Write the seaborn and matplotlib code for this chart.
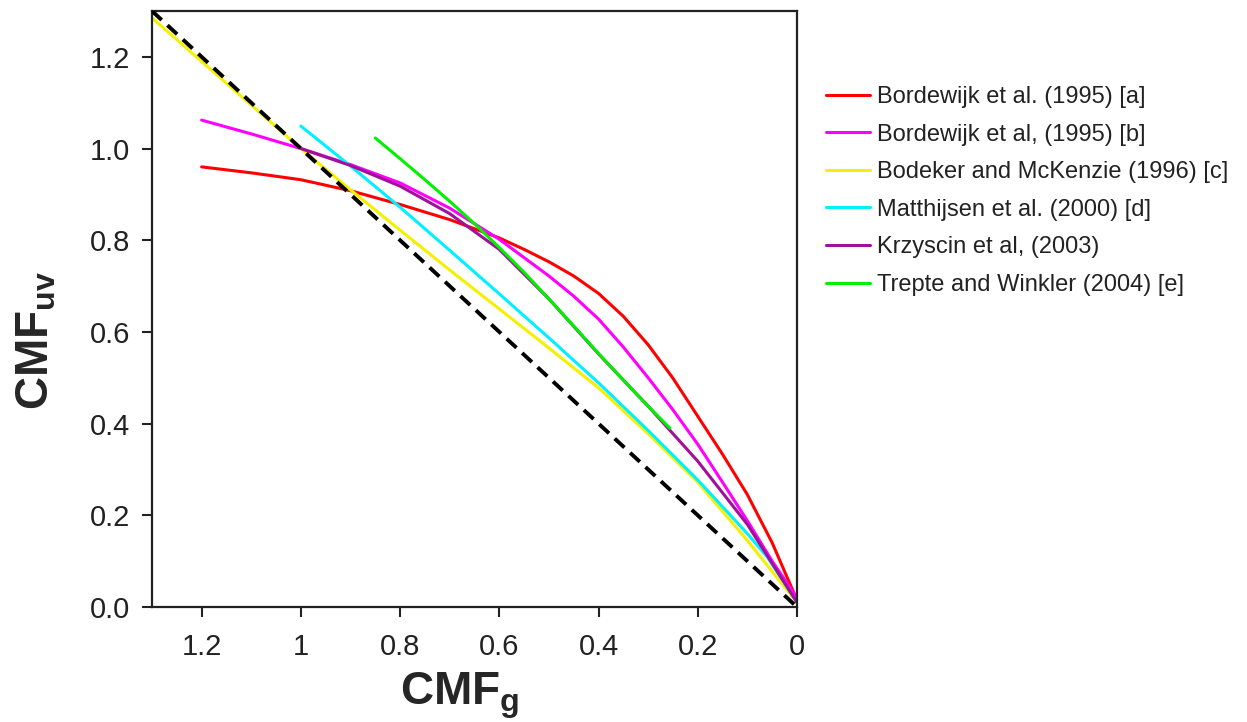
import numpy as np
import pandas as pd
import matplotlib
matplotlib.use("Agg")
import matplotlib.pyplot as plt
import seaborn as sns

# ---------------- data ----------------
labels = [
    "Bordewijk et al. (1995) [a]",
    "Bordewijk et al, (1995) [b]",
    "Bodeker and McKenzie (1996) [c]",
    "Matthijsen et al. (2000) [d]",
    "Krzyscin et al, (2003)",
    "Trepte and Winkler (2004) [e]",
]
colors = ["#ff0000", "#ff00ff", "#f5f000", "#00f0ff", "#a0109a", "#00f000"]

red_x = [1.2, 1.1, 1.0, 0.9, 0.8, 0.7, 0.6, 0.55, 0.5, 0.45, 0.4, 0.35, 0.3, 0.25, 0.2, 0.15, 0.1, 0.05, 0.0]
red_y = [0.96, 0.947, 0.932, 0.908, 0.878, 0.845, 0.805, 0.78, 0.753, 0.722, 0.684, 0.634, 0.572, 0.499, 0.416, 0.333, 0.245, 0.14, 0.015]

mag_x = [1.2, 1.1, 1.0, 0.9, 0.8, 0.7, 0.6, 0.5, 0.45, 0.4, 0.35, 0.3, 0.25, 0.2, 0.15, 0.1, 0.05, 0.0]
mag_y = [1.062, 1.032, 1.0, 0.965, 0.925, 0.87, 0.802, 0.722, 0.678, 0.628, 0.567, 0.5, 0.43, 0.355, 0.272, 0.188, 0.1, 0.02]

yel_x = [1.3, 1.2, 1.1, 1.0, 0.9, 0.8, 0.7, 0.6, 0.5, 0.4, 0.3, 0.2, 0.1, 0.0]
yel_y = [1.285, 1.19, 1.095, 1.0, 0.91, 0.822, 0.735, 0.65, 0.565, 0.478, 0.378, 0.272, 0.145, 0.01]

cya_x = [1.0, 0.9, 0.8, 0.7, 0.6, 0.5, 0.4, 0.3, 0.2, 0.1, 0.06, 0.0]
cya_y = [1.049, 0.962, 0.872, 0.778, 0.683, 0.587, 0.489, 0.385, 0.277, 0.16, 0.109, 0.01]

pur_x = [1.0, 0.9, 0.8, 0.7, 0.6, 0.5, 0.4, 0.3, 0.2, 0.1, 0.0]
pur_y = [1.0, 0.963, 0.918, 0.858, 0.78, 0.672, 0.552, 0.438, 0.318, 0.18, 0.01]

grn_x = [0.85, 0.8, 0.75, 0.7, 0.65, 0.6, 0.55, 0.5, 0.45, 0.4, 0.35, 0.3, 0.256]
grn_y = [1.023, 0.978, 0.932, 0.885, 0.836, 0.784, 0.73, 0.672, 0.613, 0.553, 0.495, 0.438, 0.39]

diag_x = [1.3, 0.0]
diag_y = [1.3, 0.0]

x_ticks = [1.2, 1.0, 0.8, 0.6, 0.4, 0.2, 0.0]
x_ticklabels = ["1.2", "1", "0.8", "0.6", "0.4", "0.2", "0"]
y_ticks = [0.0, 0.2, 0.4, 0.6, 0.8, 1.0, 1.2]
y_ticklabels = ["0.0", "0.2", "0.4", "0.6", "0.8", "1.0", "1.2"]

series_x = [red_x, mag_x, yel_x, cya_x, pur_x, grn_x]
series_y = [red_y, mag_y, yel_y, cya_y, pur_y, grn_y]

rows = []
for lab, xs, ys in zip(labels, series_x, series_y):
    for i, (xv, yv) in enumerate(zip(xs, ys)):
        rows.append({"series": lab, "order": i, "x": xv, "y": yv})
df = pd.DataFrame(rows)

# ---------------- style ----------------
sns.set_theme(style="white")
plt.rcParams["font.family"] = ["Liberation Sans", "DejaVu Sans"]
plt.rcParams["mathtext.fontset"] = "custom"
plt.rcParams["mathtext.rm"] = "Liberation Sans"
plt.rcParams["mathtext.bf"] = "Liberation Sans:bold"

fig = plt.figure(figsize=(12.47, 7.22), dpi=100)
ax = fig.add_axes([152 / 1247, 1 - 607 / 722, (797 - 152) / 1247, (607 - 11) / 722])

# diagonal (dashed)
ax.plot(diag_x, diag_y, color="black", lw=2.8, ls=(0, (3.4, 2.0)), zorder=5)

sns.lineplot(data=df, x="x", y="y", hue="series", palette=dict(zip(labels, colors)),
             hue_order=labels, sort=False, estimator=None, units="series",
             lw=2.2, ax=ax, legend=False)

ax.set_xlim(1.3, 0.0)
ax.set_ylim(0.0, 1.3)
ax.set_xticks(x_ticks)
ax.set_xticklabels(x_ticklabels)
ax.set_yticks(y_ticks)
ax.set_yticklabels(y_ticklabels)
ax.tick_params(axis="both", which="major", direction="out", length=7.5, width=1.5,
               color="#222222", labelsize=21, labelcolor="#222222", pad=8,
               bottom=True, left=True)
ax.tick_params(axis="x", pad=11)
for s in ax.spines.values():
    s.set_linewidth(1.6)
    s.set_color("#222222")
ax.set_xlabel("")
ax.set_ylabel("")

fig.text(460 / 1247, 1 - 696 / 722, r"$\mathbf{CMF}_{\mathbf{g}}$", fontsize=33,
         ha="center", va="center")
fig.text(37 / 1247, 1 - 340 / 722, r"$\mathbf{CMF}_{\mathbf{uv}}$", fontsize=33,
         ha="center", va="center", rotation=90)

handles = [plt.Line2D([], [], color=c, lw=2.2) for c in colors]
fig.legend(handles, labels, loc="upper left", bbox_to_anchor=(826 / 1247, 1 - 86 / 722),
           frameon=False, fontsize=17, handlelength=1.85, handletextpad=0.3,
           labelspacing=0.66, borderaxespad=0, borderpad=0, labelcolor="#222222")

fig.savefig("out.png", dpi=100)
